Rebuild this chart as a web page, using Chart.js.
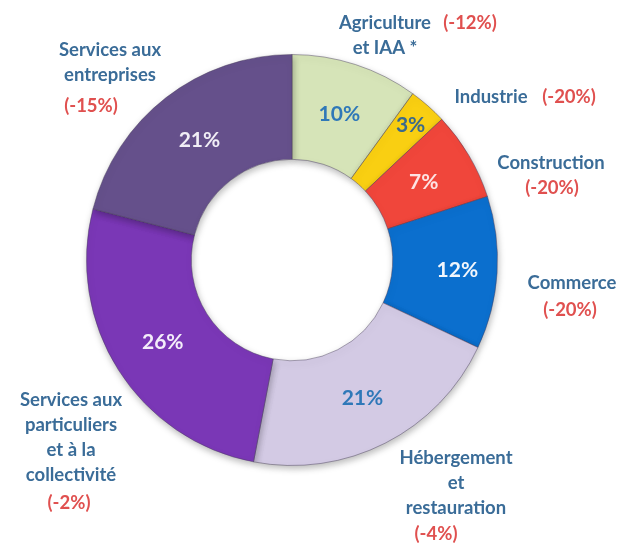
<!DOCTYPE html>
<html>
<head>
<meta charset="utf-8">
<script src="https://cdn.jsdelivr.net/npm/chart.js@4.4.0/dist/chart.umd.min.js"></script>
<style>
    body { margin: 0; background: #fff; }
    canvas { display: block; }
</style>
</head>
<body>
<canvas id="donut" width="626" height="546"></canvas>
<script>
// secteurs (lignes du libelle), part en % et evolution
const categories = [
    ['Agriculture', 'et IAA *'],
    ['Industrie'],
    ['Construction'],
    ['Commerce'],
    ['Hébergement', 'et', 'restauration'],
    ['Services aux', 'particuliers', 'et à la', 'collectivité'],
    ['Services aux', 'entreprises']
];
const shares = [10, 3, 7, 12, 21, 26, 21];
const changes = ['-12%', '-20%', '-20%', '-20%', '-4%', '-2%', '-15%'];

const sliceColors = ['#d6e4b8', '#f9cf12', '#f0463b', '#0b6fce', '#d3cae4', '#7a37b6', '#65508b'];
const pctColors = ['#2f78b8', '#3b6a8c', '#fde3e3', '#f2f6fc', '#2f78b8', '#f4eefa', '#f1eef6'];
const pctRadius = [0.5, 0.75, 0.5, 0.62, 0.52, 0.5, 0.48];

// position des libelles autour de l'anneau (centre de la 1re ligne, puis evolution)
const labelPos = [
    { x: 385, y: 23, cx: 470, cy: 23 },
    { x: 491, y: 97, cx: 569, cy: 97 },
    { x: 551, y: 163, cx: 552, cy: 188 },
    { x: 572, y: 283, cx: 570, cy: 310 },
    { x: 456, y: 458, cx: 436, cy: 534 },
    { x: 71, y: 400, cx: 69, cy: 503 },
    { x: 110, y: 50, cx: 91, cy: 106 }
];

const shadowPlugin = {
    id: 'shadow',
    beforeDatasetsDraw(chart) {
        const c = chart.ctx;
        c.save();
        c.shadowColor = 'rgba(0,0,0,0.28)';
        c.shadowBlur = 7;
        c.shadowOffsetX = 1;
        c.shadowOffsetY = 3;
    },
    afterDatasetsDraw(chart) {
        chart.ctx.restore();
    }
};

const labelPlugin = {
    id: 'labels',
    afterDraw(chart) {
        const c = chart.ctx;
        const arcs = chart.getDatasetMeta(0).data;
        c.save();
        c.textAlign = 'center';
        c.textBaseline = 'middle';

        // pourcentages dans les secteurs
        c.font = 'bold 21px Lato';
        arcs.forEach(function (arc, i) {
            const p = arc.getProps(['x', 'y', 'startAngle', 'endAngle', 'innerRadius', 'outerRadius'], true);
            const mid = (p.startAngle + p.endAngle) / 2;
            const r = p.innerRadius + (p.outerRadius - p.innerRadius) * pctRadius[i];
            c.fillStyle = pctColors[i];
            c.fillText(shares[i] + '%', p.x + Math.cos(mid) * r, p.y + Math.sin(mid) * r);
        });

        // libelles des secteurs
        c.font = 'bold 18.5px Lato';
        categories.forEach(function (lines, i) {
            const pos = labelPos[i];
            c.fillStyle = '#3a6c98';
            lines.forEach(function (t, k) {
                c.fillText(t, pos.x, pos.y + k * 25);
            });
            c.fillStyle = '#e0504f';
            c.fillText('(' + changes[i] + ')', pos.cx, pos.cy);
        });
        c.restore();
    }
};

new Chart(document.getElementById('donut'), {
    type: 'doughnut',
    data: {
        labels: categories,
        datasets: [{
            data: shares,
            backgroundColor: sliceColors,
            borderColor: 'rgba(70,60,90,0.45)',
            borderWidth: 1
        }]
    },
    options: {
        responsive: false,
        animation: false,
        cutout: '49%',
        layout: {
            padding: { top: 53, bottom: 79, left: 86, right: 128 }
        },
        plugins: {
            legend: { display: false },
            tooltip: { enabled: false }
        }
    },
    plugins: [shadowPlugin, labelPlugin]
});
</script>
</body>
</html>
